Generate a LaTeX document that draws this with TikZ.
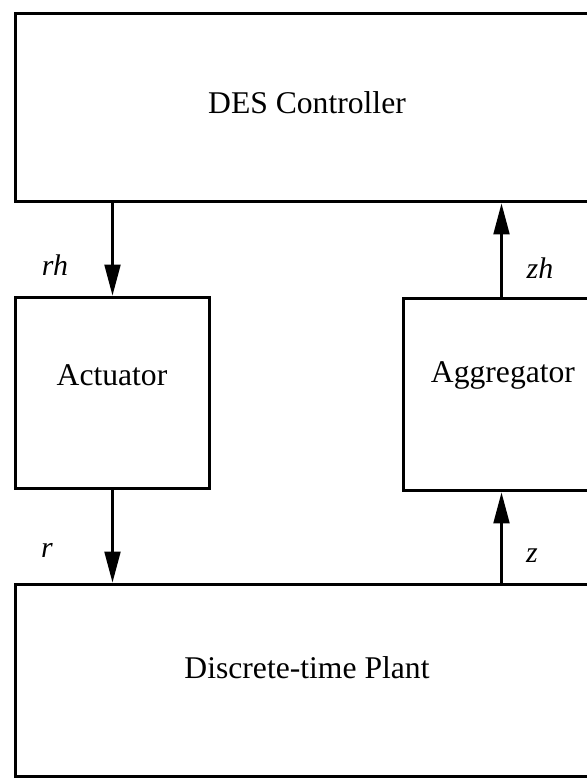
\documentclass[tikz,border=0pt]{standalone}
\usepackage{fontspec}
\setmainfont{Liberation Serif}
\usepackage{tikz}
\usetikzlibrary{arrows.meta, positioning}

\tikzset{
  blockbox/.style={draw=black, line width=1.7pt, rectangle, inner sep=0pt},
  blocktext/.style={font=\fontsize{18}{21}\selectfont, inner sep=0pt},
  sig/.style={line width=1.2pt, -{Triangle[length=0.62cm, width=0.32cm]}},
  siglabel/.style={font=\fontsize{17}{20}\selectfont\itshape, inner sep=0pt}
}

\begin{document}
\begin{tikzpicture}[x=0.02cm, y=-0.02cm]
\useasboundingbox (0,0) rectangle (587,778);
\clip (0,0) rectangle (587,778);

% ---- blocks ----
\node[blockbox, minimum width=11.7cm, minimum height=3.78cm] (ctrl) at (307.5,107.5) {};
\node[blockbox, minimum width=3.9cm, minimum height=3.84cm] (act) at (112.5,393) {};
\node[blockbox, minimum width=3.94cm, minimum height=3.86cm] (agg) at (501.5,394.5) {};
\node[blockbox, minimum width=11.7cm, minimum height=3.86cm] (plant) at (307.5,680.5) {};

% block names
\node[blocktext] (ctrltext) at (307,103) {DES Controller};
\node[blocktext] (acttext) at (112,375) {Actuator};
\node[blocktext] (aggtext) at (503,375) {Aggregator};
\node[blocktext] (planttext) at (307,668) {Discrete-time Plant};

% ---- signals ----
\draw[sig] (ctrl.south -| act.north) -- (act.north);
\draw[sig] (act.south) -- (plant.north -| act.south);
\draw[sig] (plant.north -| agg.south) -- (agg.south);
\draw[sig] (agg.north) -- (ctrl.south -| agg.north);

% labels
\node[siglabel] (rh) at (55,265) {rh};
\node[siglabel] (zh) at (540,268) {zh};
\node[siglabel] (r) at (47,550) {r};
\node[siglabel] (z) at (532,556) {z};

\end{tikzpicture}
\end{document}
